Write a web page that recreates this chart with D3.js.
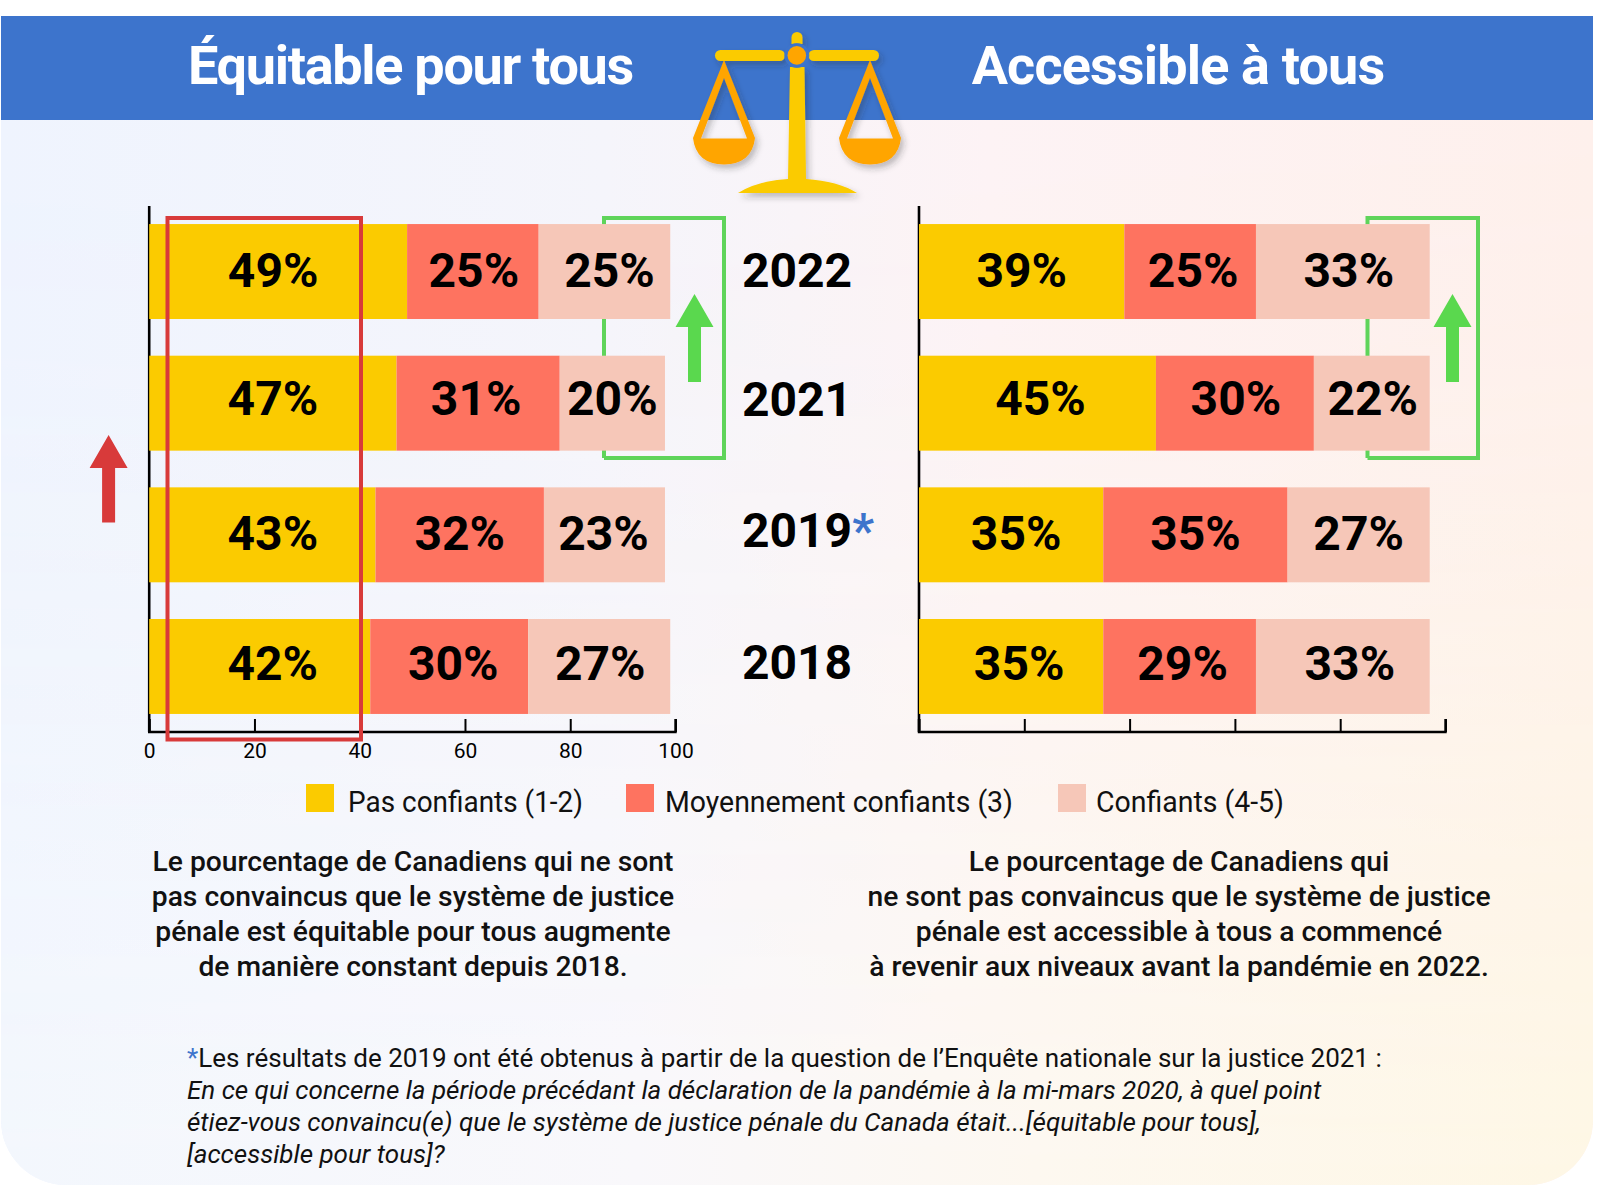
<!DOCTYPE html>
<html lang="fr">
<head>
<meta charset="utf-8">
<style>
html,body{margin:0;padding:0;background:#fff;}
svg{display:block;font-family:Roboto,sans-serif;}
</style>
<script src="https://cdn.jsdelivr.net/npm/d3@7/dist/d3.min.js"></script>
</head>
<body>
<svg id="chart" width="1610" height="1185" viewBox="0 0 1610 1185"></svg>
<script>
// ---------- data ----------
const years = ["2022", "2021", "2019", "2018"];
const seriesNames = ["Pas confiants (1-2)", "Moyennement confiants (3)", "Confiants (4-5)"];
const equitablePas = [49, 47, 43, 42];
const equitableMoyen = [25, 31, 32, 30];
const equitableConfiants = [25, 20, 23, 27];
const accessiblePas = [39, 45, 35, 35];
const accessibleMoyen = [25, 30, 35, 29];
const accessibleConfiants = [33, 22, 27, 33];
const axisTicks = [0, 20, 40, 60, 80, 100];
const titleLeft = "Équitable pour tous";
const titleRight = "Accessible à tous";
const paragraphLeft = [
  "Le pourcentage de Canadiens qui ne sont",
  "pas convaincus que le système de justice",
  "pénale est équitable pour tous augmente",
  "de manière constant depuis 2018."
];
const paragraphRight = [
  "Le pourcentage de Canadiens qui",
  "ne sont pas convaincus que le système de justice",
  "pénale est accessible à tous a commencé",
  "à revenir aux niveaux avant la pandémie en 2022."
];
const footnoteHead = "Les résultats de 2019 ont été obtenus à partir de la question de l’Enquête nationale sur la justice 2021 :";
const footnoteItalic = [
  "En ce qui concerne la période précédant la déclaration de la pandémie à la mi-mars 2020, à quel point",
  "étiez-vous convaincu(e) que le système de justice pénale du Canada était...[équitable pour tous],",
  "[accessible pour tous]?"
];

// ---------- style and layout ----------
const colors = ["#fbcb00", "#fe7360", "#f6c7b8"];
const blue = "#3d74cc", red = "#d83a3a", green = "#5fd45a", greenArrow = "#5ad84e";
const gold = "#fbcb00", orange = "#ffa500";
const svg = d3.select("#chart");
const defs = svg.append("defs");

function grad(id, stops, x2, y2) {
  const g = defs.append("linearGradient").attr("id", id)
    .attr("x1", 0).attr("y1", 0).attr("x2", x2).attr("y2", y2);
  stops.forEach(s => g.append("stop").attr("offset", s[0]).attr("stop-color", s[1]));
}
grad("bgTop", [[0, "#eff4fe"], [0.38, "#f5f5fb"], [0.62, "#fdf3f5"], [1, "#fef0ec"]], 1, 0);
grad("bgBottom", [[0, "#f3f7fd"], [0.4, "#f9f8fb"], [0.65, "#fdf8f0"], [1, "#fef7e5"]], 1, 0);
grad("fade", [[0, "#000"], [0.25, "#222"], [1, "#fff"]], 0, 1);
defs.append("mask").attr("id", "fadeMask").attr("maskUnits", "userSpaceOnUse")
  .attr("x", 0).attr("y", 0).attr("width", 1610).attr("height", 1185)
  .append("rect").attr("x", 0).attr("y", 120).attr("width", 1610).attr("height", 1065).attr("fill", "url(#fade)");
const shadow = defs.append("filter").attr("id", "shadow")
  .attr("x", "-10%").attr("y", "-10%").attr("width", "125%").attr("height", "125%");
shadow.append("feDropShadow").attr("dx", 3).attr("dy", 4).attr("stdDeviation", 3)
  .attr("flood-color", "#333").attr("flood-opacity", 0.3);

// ---------- background panel ----------
const panelPath = d3.path();
panelPath.moveTo(1, 120); panelPath.lineTo(1593, 120); panelPath.lineTo(1593, 1120);
panelPath.arc(1528, 1120, 65, 0, Math.PI / 2);
panelPath.lineTo(66, 1185);
panelPath.arc(66, 1120, 65, Math.PI / 2, Math.PI);
panelPath.closePath();
svg.append("path").attr("d", panelPath.toString()).attr("fill", "url(#bgTop)");
svg.append("path").attr("d", panelPath.toString()).attr("fill", "url(#bgBottom)").attr("mask", "url(#fadeMask)");
svg.append("rect").attr("x", 1).attr("y", 16).attr("width", 1592).attr("height", 104).attr("fill", blue);

// ---------- header ----------
svg.append("text").text(titleLeft).attr("x", 410.5).attr("y", 84).attr("text-anchor", "middle")
  .attr("font-size", 54).attr("font-weight", 700).attr("fill", "#fff").attr("letter-spacing", -1.3);
svg.append("text").text(titleRight).attr("x", 1178).attr("y", 84).attr("text-anchor", "middle")
  .attr("font-size", 54).attr("font-weight", 700).attr("fill", "#fff").attr("letter-spacing", -0.85);

// ---------- scales icon ----------
const icon = svg.append("g").attr("filter", "url(#shadow)");
function pan(cx) {
  const p = d3.path();
  p.moveTo(cx, 60); p.lineTo(cx + 31, 138);
  p.quadraticCurveTo(cx + 28, 164, cx, 164.5);
  p.quadraticCurveTo(cx - 28, 164, cx - 31, 138);
  p.closePath();
  p.moveTo(cx, 78); p.lineTo(cx - 23, 138.5); p.lineTo(cx + 23, 138.5); p.closePath();
  icon.append("path").attr("d", p.toString()).attr("fill", orange).attr("fill-rule", "evenodd");
}
pan(724); pan(870);
icon.append("rect").attr("x", 715).attr("y", 50).attr("width", 70).attr("height", 11).attr("rx", 5.5).attr("fill", gold);
icon.append("rect").attr("x", 808.5).attr("y", 50).attr("width", 70.5).attr("height", 11).attr("rx", 5.5).attr("fill", gold);
icon.append("path").attr("d", "M791.5 44V37.5a5.5 5.5 0 0 1 11 0V44Z").attr("fill", gold);
icon.append("path").attr("d", "M790 67H804.5L806 179Q838 181 857 193H738Q757 181 788 179Z").attr("fill", gold);
svg.append("circle").attr("cx", 796.8).attr("cy", 55.4).attr("r", 12.5).attr("fill", blue).attr("opacity", 0.9);
svg.append("circle").attr("cx", 796.8).attr("cy", 55.4).attr("r", 9.3).attr("fill", orange);

// ---------- charts ----------
const rowY = d3.scaleBand().domain(years).range([224 - 18.3, 714 + 18.3]).paddingInner(0.2787).paddingOuter(0.1394);
const labelDy = [-2, -5, -2.5, -3.5];
const yearDy = [-2, -4, -5, -4.5];
const nudgeLeft = [[-5, 1, 5], [0, -2, 0], [10.5, 0, -1], [13, 4, 1]];
const nudgeRight = [[0, 3, 6], [3, 1, 1], [5, 0, 0], [8, 3, 7]];

function drawBracket(x1, x2) {
  svg.append("path").attr("d", `M${x1} 458V218H${x2}V458H${x1}`)
    .attr("fill", "none").attr("stroke", green).attr("stroke-width", 4);
}
drawBracket(604, 724);
drawBracket(1367.5, 1478);

function drawChart(x0, x100, pas, moyen, conf, nudges, withLabels) {
  const x = d3.scaleLinear().domain([0, 100]).range([x0, x100]);
  const g = svg.append("g");
  // axes sit under the bars
  const axisBottom = d3.axisBottom(x).tickValues(axisTicks).tickSize(-13).tickPadding(0)
    .tickFormat(withLabels ? d3.format("d") : "");
  const ax = g.append("g").attr("transform", "translate(0,732)").call(axisBottom);
  ax.select(".domain").attr("stroke", "#000").attr("stroke-width", 2.4).attr("d", `M${x0},-13V0H${x100}V-13`);
  ax.selectAll(".tick line").attr("stroke", "#000").attr("stroke-width", 2);
  ax.selectAll(".tick text").attr("y", 26).attr("dy", 0).attr("font-size", 21).attr("font-family", "Roboto, sans-serif").attr("fill", "#000");
  g.append("line").attr("x1", x0).attr("x2", x0).attr("y1", 206).attr("y2", 732).attr("stroke", "#000").attr("stroke-width", 2.6);

  const rows = years.map((year, i) => ({ year, i, values: [pas[i], moyen[i], conf[i]] }));
  const stack = d3.stack().keys([0, 1, 2]).value((d, k) => d.values[k])(rows);
  stack.forEach((layer, k) => {
    g.selectAll(null).data(layer).join("rect")
      .attr("x", d => x(d[0])).attr("width", d => x(d[1]) - x(d[0]))
      .attr("y", d => rowY(d.data.year)).attr("height", rowY.bandwidth())
      .attr("fill", colors[k]);
  });
  stack.forEach((layer, k) => {
    g.selectAll(null).data(layer).join("text")
      .text(d => d.data.values[k] + "%")
      .attr("x", d => (x(d[0]) + x(d[1])) / 2 + nudges[d.data.i][k])
      .attr("y", d => rowY(d.data.year) + rowY.bandwidth() / 2 + labelDy[d.data.i])
      .attr("dy", "0.36em").attr("text-anchor", "middle")
      .attr("font-size", 48).attr("font-weight", 700).attr("fill", "#000");
  });
}
drawChart(149.2, 675.5, equitablePas, equitableMoyen, equitableConfiants, nudgeLeft, true);
drawChart(919, 1445.5, accessiblePas, accessibleMoyen, accessibleConfiants, nudgeRight, false);

// ---------- year labels ----------
const yearText = svg.append("g").selectAll("text").data(years).join("text")
  .attr("x", 742)
  .attr("y", d => rowY(d) + rowY.bandwidth() / 2 + yearDy[years.indexOf(d)])
  .attr("dy", "0.36em").attr("font-size", 48).attr("font-weight", 700).attr("fill", "#000");
yearText.append("tspan").text(d => d);
yearText.filter(d => d === "2019").append("tspan").text("*").attr("fill", blue);

// ---------- annotations ----------
svg.append("rect").attr("x", 167.5).attr("y", 218).attr("width", 193.5).attr("height", 521.5)
  .attr("fill", "none").attr("stroke", red).attr("stroke-width", 4);
function arrow(cx, halfHead, halfShaft, tip, base, bottom, fill) {
  const p = d3.path();
  p.moveTo(cx, tip); p.lineTo(cx + halfHead, base); p.lineTo(cx + halfShaft, base); p.lineTo(cx + halfShaft, bottom);
  p.lineTo(cx - halfShaft, bottom); p.lineTo(cx - halfShaft, base); p.lineTo(cx - halfHead, base); p.closePath();
  svg.append("path").attr("d", p.toString()).attr("fill", fill);
}
arrow(694.5, 19, 6.5, 294, 327, 382, greenArrow);
arrow(1452.5, 19, 6.5, 294, 327, 382, greenArrow);
arrow(108.6, 19, 6.5, 435, 468, 522.5, red);

// ---------- legend ----------
const legendX = [306, 626, 1058];
const legendTextX = [348, 665, 1096];
const legendWidth = [235, 348, 188];
seriesNames.forEach((name, i) => {
  svg.append("rect").attr("x", legendX[i]).attr("y", 784).attr("width", 28).attr("height", 28).attr("fill", colors[i]);
  svg.append("text").text(name).attr("x", legendTextX[i]).attr("y", 812).attr("font-size", 29).attr("fill", "#111")
    .attr("textLength", legendWidth[i]).attr("lengthAdjust", "spacingAndGlyphs");
});

// ---------- paragraphs ----------
function paragraph(lines, cx) {
  svg.append("g").selectAll("text").data(lines).join("text").text(d => d)
    .attr("x", cx).attr("y", (d, i) => 871 + i * 35).attr("text-anchor", "middle")
    .attr("font-size", 28.25).attr("font-weight", 500).attr("fill", "#111");
}
paragraph(paragraphLeft, 413);
paragraph(paragraphRight, 1179);

// ---------- footnote ----------
const fn = svg.append("text").attr("x", 187).attr("y", 1067).attr("font-size", 26).attr("fill", "#111");
fn.append("tspan").text("*").attr("fill", blue);
fn.append("tspan").text(footnoteHead);
svg.append("g").selectAll("text").data(footnoteItalic).join("text").text(d => d)
  .attr("x", 187).attr("y", (d, i) => 1099 + i * 32).attr("font-size", 26).attr("font-style", "italic").attr("fill", "#111");
</script>
</body>
</html>
